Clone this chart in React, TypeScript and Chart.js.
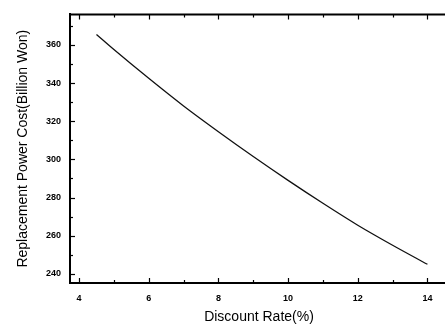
import React, { useEffect, useRef } from "react";
import { Chart, registerables } from "chart.js";

Chart.register(...registerables);

const discountRates = [4.5, 5, 6, 7, 8, 9, 10, 11, 12, 13, 14];
const replacementCost = [365.5, 357.6, 342.5, 328, 314.5, 301.5, 289, 277, 265.5, 255, 245];
const xMajorTicks = [4, 6, 8, 10, 12, 14];
const xMinorTicks = [5, 7, 9, 11, 13];
const yMajorTicks = [240, 260, 280, 300, 320, 340, 360];
const yMinorTicks = [250, 270, 290, 310, 330, 350, 370];
const xTitle = "Discount Rate(%)";
const yTitle = "Replacement Power Cost(Billion Won)";

const frameTicks = {
  id: "frameTicks",
  afterDraw(chart: any) {
    const { ctx, chartArea, scales } = chart;
    const x = scales.x;
    const y = scales.y;
    ctx.save();
    ctx.strokeStyle = "#000";
    ctx.lineWidth = 2;
    ctx.beginPath();
    ctx.moveTo(chartArea.left - 1, chartArea.top);
    ctx.lineTo(chartArea.right + 4, chartArea.top);
    ctx.stroke();
    ctx.lineWidth = 1.2;
    const drawX = (vals: number[], len: number) => {
      vals.forEach((v) => {
        const px = Math.round(x.getPixelForValue(v)) + 0.5;
        ctx.beginPath();
        ctx.moveTo(px, chartArea.bottom);
        ctx.lineTo(px, chartArea.bottom - len);
        ctx.moveTo(px, chartArea.top);
        ctx.lineTo(px, chartArea.top + len);
        ctx.stroke();
      });
    };
    const drawY = (vals: number[], len: number) => {
      vals.forEach((v) => {
        const py = Math.round(y.getPixelForValue(v)) + 0.5;
        ctx.beginPath();
        ctx.moveTo(chartArea.left, py);
        ctx.lineTo(chartArea.left + len, py);
        ctx.stroke();
      });
    };
    drawX(xMajorTicks, 5);
    drawX(xMinorTicks, 3);
    drawY(yMajorTicks, 5);
    drawY(yMinorTicks, 3);
    ctx.restore();
  },
};

export default function App() {
  const ref = useRef<HTMLCanvasElement>(null);
  useEffect(() => {
    document.body.style.margin = "0";
    const chart = new Chart(ref.current!, {
      type: "line",
      data: {
        datasets: [
          {
            data: discountRates.map((r, i) => ({ x: r, y: replacementCost[i] })),
            borderColor: "#111",
            borderWidth: 1.3,
            pointRadius: 0,
            cubicInterpolationMode: "monotone",
          },
        ],
      },
      options: {
        responsive: false,
        animation: false,
        layout: { padding: { top: 9, right: 4, left: 0, bottom: 0 } },
        plugins: { legend: { display: false }, tooltip: { enabled: false } },
        scales: {
          x: {
            type: "linear",
            min: 3.74,
            max: 14.59,
            afterBuildTicks: (s: any) => {
              s.ticks = xMajorTicks.map((v) => ({ value: v }));
            },
            afterFit: (s: any) => {
              s.height = 44;
            },
            grid: { drawOnChartArea: false, drawTicks: false },
            border: { display: true, color: "#000", width: 2 },
            ticks: {
              color: "#000",
              padding: 10,
              font: { family: "Liberation Sans", size: 9, weight: "bold" },
            },
            title: {
              display: true,
              text: xTitle,
              color: "#000",
              padding: { top: 0, bottom: 1.6 },
              font: { family: "Liberation Sans", size: 14 },
            },
          },
          y: {
            type: "linear",
            min: 235.2,
            max: 376,
            afterBuildTicks: (s: any) => {
              s.ticks = yMajorTicks.map((v) => ({ value: v }));
            },
            afterFit: (s: any) => {
              s.width = 70;
            },
            grid: { drawOnChartArea: false, drawTicks: false },
            border: { display: true, color: "#000", width: 2 },
            ticks: {
              color: "#000",
              padding: 9,
              font: { family: "Liberation Sans", size: 9, weight: "bold" },
            },
            title: {
              display: true,
              text: yTitle,
              color: "#000",
              padding: { top: 14.6, bottom: 0 },
              font: { family: "Liberation Sans", size: 14 },
            },
          },
        },
      },
      plugins: [frameTicks],
    } as any);
    return () => chart.destroy();
  }, []);
  return (
    <div style={{ position: "absolute", left: 0, top: 0, width: 445, height: 327, overflow: "hidden", background: "#fff" }}>
      <canvas ref={ref} width={452} height={327} style={{ width: 452, height: 327, display: "block" }} />
    </div>
  );
}
